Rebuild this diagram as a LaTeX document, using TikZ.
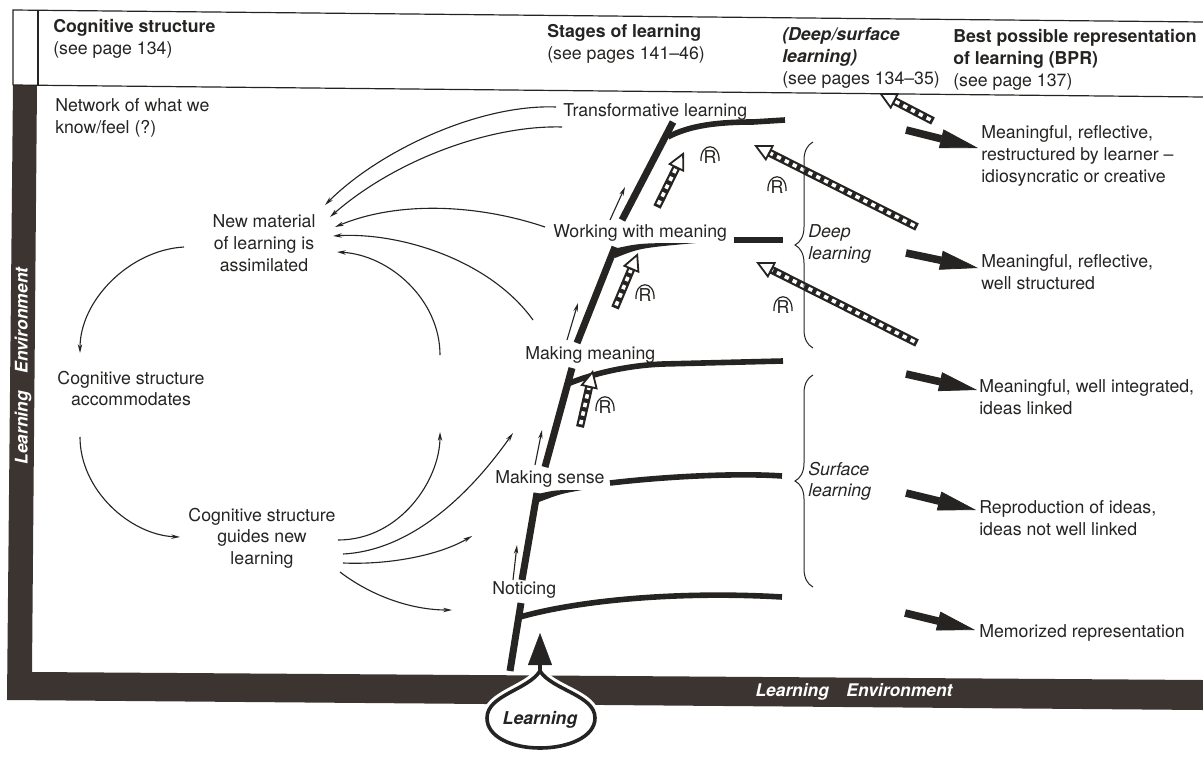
\documentclass[tikz,border=0pt]{standalone}
\usepackage{fontspec}
\setmainfont{TeX Gyre Heros}
\usetikzlibrary{arrows.meta,calc,decorations.pathreplacing}

\definecolor{envdark}{RGB}{60,52,48}
\definecolor{ink}{RGB}{38,36,34}

\tikzset{
  txt/.style={inner sep=0pt, text=ink, font=\fontsize{12.6}{15.6}\selectfont},
  envtext/.style={inner sep=0pt, text=white, font=\fontsize{12.4}{14}\selectfont\bfseries\itshape},
  frameline/.style={ink, line width=0.3mm},
  stagestem/.style={ink, line width=1.75mm},
  stageshelf/.style={ink, line width=1.4mm},
  link/.style={ink, line width=0.28mm, -{Stealth[length=2.2mm,width=1.1mm]}},
  bigarrow/.style={ink, line width=1.9mm, -{Triangle[length=9.5mm,width=4.8mm,line width=0.2mm]}},
  hatchline/.style={ink, line width=2mm, shorten >=4mm},
  hatchdash/.style={white, line width=0.9mm, dash pattern=on 1.1mm off 1.1mm, shorten >=4.6mm, shorten <=0.7mm},
  hatchtip/.style={ink, line width=0.45mm, -{Triangle[fill=white,length=4.5mm,width=4.4mm]}},
  bracket/.style={ink, line width=0.25mm, decorate, decoration={brace, amplitude=4.5mm}}
}

\begin{document}
\begin{tikzpicture}[x=0.25mm, y=-0.25mm]

	\useasboundingbox (0,0) rectangle (1203,761);

	% learning environment frame
	\fill[envdark] (13,85) -- (37,85) -- (32,672) -- (1203,680) -- (1203,710) -- (7,700) -- cycle;
	\draw[frameline] (13,85) -- (13,10) -- (1203,22);
	\draw[frameline] (38,10) -- (38,85);
	\draw[frameline] (13,85) -- (1203,97);

	\node[envtext, rotate=90] (envleft) at (23,366) {Learning\quad Environment};
	\node[envtext] (envbottom) at (854,692) {Learning\quad Environment};

	% column heads
	\node[txt, anchor=north west, align=left] (headcog) at (53,19.5) {\textbf{Cognitive structure}\\(see page 134)};
	\node[txt, anchor=north west, align=left] (headstage) at (547,24.5) {\textbf{Stages of learning}\\(see pages 141--46)};
	\node[txt, anchor=north west, align=left] (headdeep) at (782,27.5) {\textbf{\textit{(Deep/surface}}\\\textbf{\textit{learning)}}\\(see pages 134--35)};
	\node[txt, anchor=north west, align=left] (headbpr) at (953,29.5) {\textbf{Best possible representation}\\\textbf{of learning (BPR)}\\(see page 137)};

	% cognitive structure side
	\node[txt, anchor=north west, align=left] (network) at (55,98.5) {Network of what we\\know/feel (?)};
	\node[txt, anchor=north, align=center] (newmat) at (264,214.5) {New material\\of learning is\\assimilated};
	\node[txt, anchor=north, align=center] (accom) at (131,370.5) {Cognitive structure\\accommodates};
	\node[txt, anchor=north, align=center] (guides) at (262,507.5) {Cognitive structure\\guides new\\learning};

	% stages
	\node[txt, anchor=west] (notice) at (492,590) {Noticing};
	\node[txt, anchor=west] (sense) at (495,479) {Making sense};
	\node[txt, anchor=west] (mmean) at (525,355) {Making meaning};
	\node[txt, anchor=west] (wmean) at (553,233) {Working with meaning};
	\node[txt, anchor=west] (transf) at (563,112) {Transformative learning};

	\coordinate (st0) at (510,671); \coordinate (st1) at (521,603);
	\coordinate (st2) at (522,580); \coordinate (st3) at (537,493);
	\coordinate (st4) at (545,467); \coordinate (st5) at (572,368);
	\coordinate (st6) at (577,343); \coordinate (st7) at (615,247);
	\coordinate (st8) at (622,220); \coordinate (st9) at (673,122);
	\foreach \a/\b in {st0/st1, st2/st3, st4/st5, st6/st7, st8/st9}
		\draw[stagestem] (\a) -- (\b);

	\draw[stageshelf] (520,617) .. controls (580,600) and (680,591) .. (782,597);
	\fill[ink] (538,494) .. controls (555,490) .. (582,490) .. controls (560,494) .. (539,502) -- cycle;
	\draw[stageshelf] (610,483) .. controls (670,476) and (740,473) .. (782,476);
	\draw[stageshelf] (570,383) .. controls (600,371) and (635,365) .. (663,364) -- (783,361);
	\fill[ink] (613,249) .. controls (640,243) .. (696,243) .. controls (640,248) .. (615,258) -- cycle;
	\draw[stageshelf] (734,240) -- (783,240);
	\draw[stageshelf] (668,137) .. controls (690,125) and (720,122) .. (753,122) -- (785,120);

	% small arrows beside the stem
	\coordinate (a0s) at (513,580); \coordinate (a0e) at (517,545);
	\coordinate (a1s) at (535,465); \coordinate (a1e) at (542,430);
	\coordinate (a2s) at (567,340); \coordinate (a2e) at (578,303);
	\coordinate (a3s) at (610,220); \coordinate (a3e) at (625,187);
	\foreach \a/\b in {a0s/a0e, a1s/a1e, a2s/a2e, a3s/a3e}
		\draw[link] (\a) -- (\b);

	% links between stages and cognitive structure
	\coordinate (t1a) at (556,107); \coordinate (t1b) at (325,205);
	\coordinate (t2a) at (562,127); \coordinate (t2b) at (330,217);
	\coordinate (w1a) at (545,227); \coordinate (w1b) at (335,227);
	\coordinate (m1a) at (533,320); \coordinate (m1b) at (333,236);
	\coordinate (c1a) at (440,355); \coordinate (c1b) at (337,252);
	\coordinate (c2a) at (184,247); \coordinate (c2b) at (80,353);
	\coordinate (c3a) at (80,437);  \coordinate (c3b) at (180,537);
	\coordinate (c4a) at (338,540); \coordinate (c4b) at (440,432);
	\coordinate (g1a) at (343,554); \coordinate (g1b) at (513,433);
	\coordinate (g2a) at (343,563); \coordinate (g2b) at (472,536);
	\coordinate (g3a) at (340,572); \coordinate (g3b) at (452,610);

	\draw[link] (t1a) .. controls (480,104) and (380,150) .. (t1b);
	\draw[link] (t2a) .. controls (490,125) and (395,160) .. (t2b);
	\draw[link] (w1a) .. controls (480,205) and (400,200) .. (w1b);
	\draw[link] (m1a) .. controls (490,260) and (400,232) .. (m1b);
	\draw[link] (c1a) .. controls (440,300) and (390,255) .. (c1b);
	\draw[link] (c2a) .. controls (130,250) and (80,300) .. (c2b);
	\draw[link] (c3a) .. controls (80,490) and (130,535) .. (c3b);
	\draw[link] (c4a) .. controls (400,540) and (440,480) .. (c4b);
	\draw[link] (g1a) .. controls (420,550) and (480,480) .. (g1b);
	\draw[link] (g2a) .. controls (390,565) and (440,555) .. (g2b);
	\draw[link] (g3a) .. controls (370,595) and (410,610) .. (g3b);

	% reflection arrows
	\coordinate (h1s) at (933,121); \coordinate (h1e) at (879,93);
	\coordinate (h2s) at (917,227); \coordinate (h2e) at (754,145);
	\coordinate (h3s) at (917,343); \coordinate (h3e) at (756,262);
	\coordinate (h4s) at (657,207); \coordinate (h4e) at (684,152);
	\coordinate (h5s) at (615,308); \coordinate (h5e) at (638,253);
	\coordinate (h6s) at (580,427); \coordinate (h6e) at (593,370);
	\foreach \s/\e in {h1s/h1e, h2s/h2e, h3s/h3e, h4s/h4e, h5s/h5e, h6s/h6e} {
		\draw[hatchline] (\s) -- (\e);
		\draw[hatchdash] (\s) -- (\e);
		\draw[hatchtip] ($(\e)!4.5mm!(\s)$) -- (\e);
	}

	\foreach \p/\n in {{(710,157)}/r1, {(777,187)}/r2, {(645,295)}/r3, {(783,307)}/r4, {(605,407)}/r5} {
		\node[txt, font=\fontsize{12.6}{12.6}\selectfont] (\n) at \p {R};
		\draw[ink, line width=0.3mm] ($(\n.center)+(-9,4)$) .. controls ($(\n.center)+(-10,-15)$) and ($(\n.center)+(10,-15)$) .. ($(\n.center)+(9,4)$);
	}

	% deep / surface
	\draw[bracket] (813,348) -- (813,142);
	\draw[bracket] (813,587) -- (813,375);
	\node[txt, anchor=north west, align=left, font=\fontsize{12.6}{15.6}\selectfont\itshape] (deep) at (808,224.5) {Deep\\learning};
	\node[txt, anchor=north west, align=left, font=\fontsize{12.6}{15.6}\selectfont\itshape] (surface) at (808,461.5) {Surface\\learning};

	% best possible representation
	\node[txt, anchor=north west, align=left] (bpr1) at (981,125.5) {Meaningful, reflective,\\restructured by learner --\\idiosyncratic or creative};
	\node[txt, anchor=north west, align=left] (bpr2) at (981,254.5) {Meaningful, reflective,\\well structured};
	\node[txt, anchor=north west, align=left] (bpr3) at (979,379.5) {Meaningful, well integrated,\\ideas linked};
	\node[txt, anchor=north west, align=left] (bpr4) at (979,500.5) {Reproduction of ideas,\\ideas not well linked};
	\node[txt, anchor=west] (bpr5) at (979,633) {Memorized representation};

	\coordinate (b1s) at (906,130); \coordinate (b1e) at (978,148);
	\coordinate (b2s) at (906,253); \coordinate (b2e) at (978,268);
	\coordinate (b3s) at (906,374); \coordinate (b3e) at (977,390);
	\coordinate (b4s) at (906,493); \coordinate (b4e) at (976,510);
	\coordinate (b5s) at (905,613); \coordinate (b5e) at (975,630);
	\foreach \s/\e in {b1s/b1e, b2s/b2e, b3s/b3e, b4s/b4e, b5s/b5e}
		\draw[bigarrow] (\s) -- (\e);

	% learning drop
	\coordinate (droptop) at (540,671);
	\coordinate (droptip) at (540,633);
	\path[draw=white, line width=2.4mm, fill=white] (droptop) .. controls (528,690) and (487,695) .. (487,718) .. controls (487,737) and (512,748) .. (540,748) .. controls (568,748) and (595,737) .. (595,718) .. controls (595,695) and (552,690) .. (droptop);
	\draw[ink, line width=0.9mm, -{Triangle[length=8mm,width=6mm,line width=0.1mm]}] (droptop) -- (droptip);
	\draw[ink, line width=0.9mm, line join=round] (droptop) .. controls (528,690) and (487,695) .. (487,718) .. controls (487,737) and (512,748) .. (540,748) .. controls (568,748) and (595,737) .. (595,718) .. controls (595,695) and (552,690) .. (droptop);
	\node[txt, font=\fontsize{12.6}{15.6}\selectfont\bfseries\itshape] (learn) at (540,720) {Learning};

\end{tikzpicture}
\end{document}
